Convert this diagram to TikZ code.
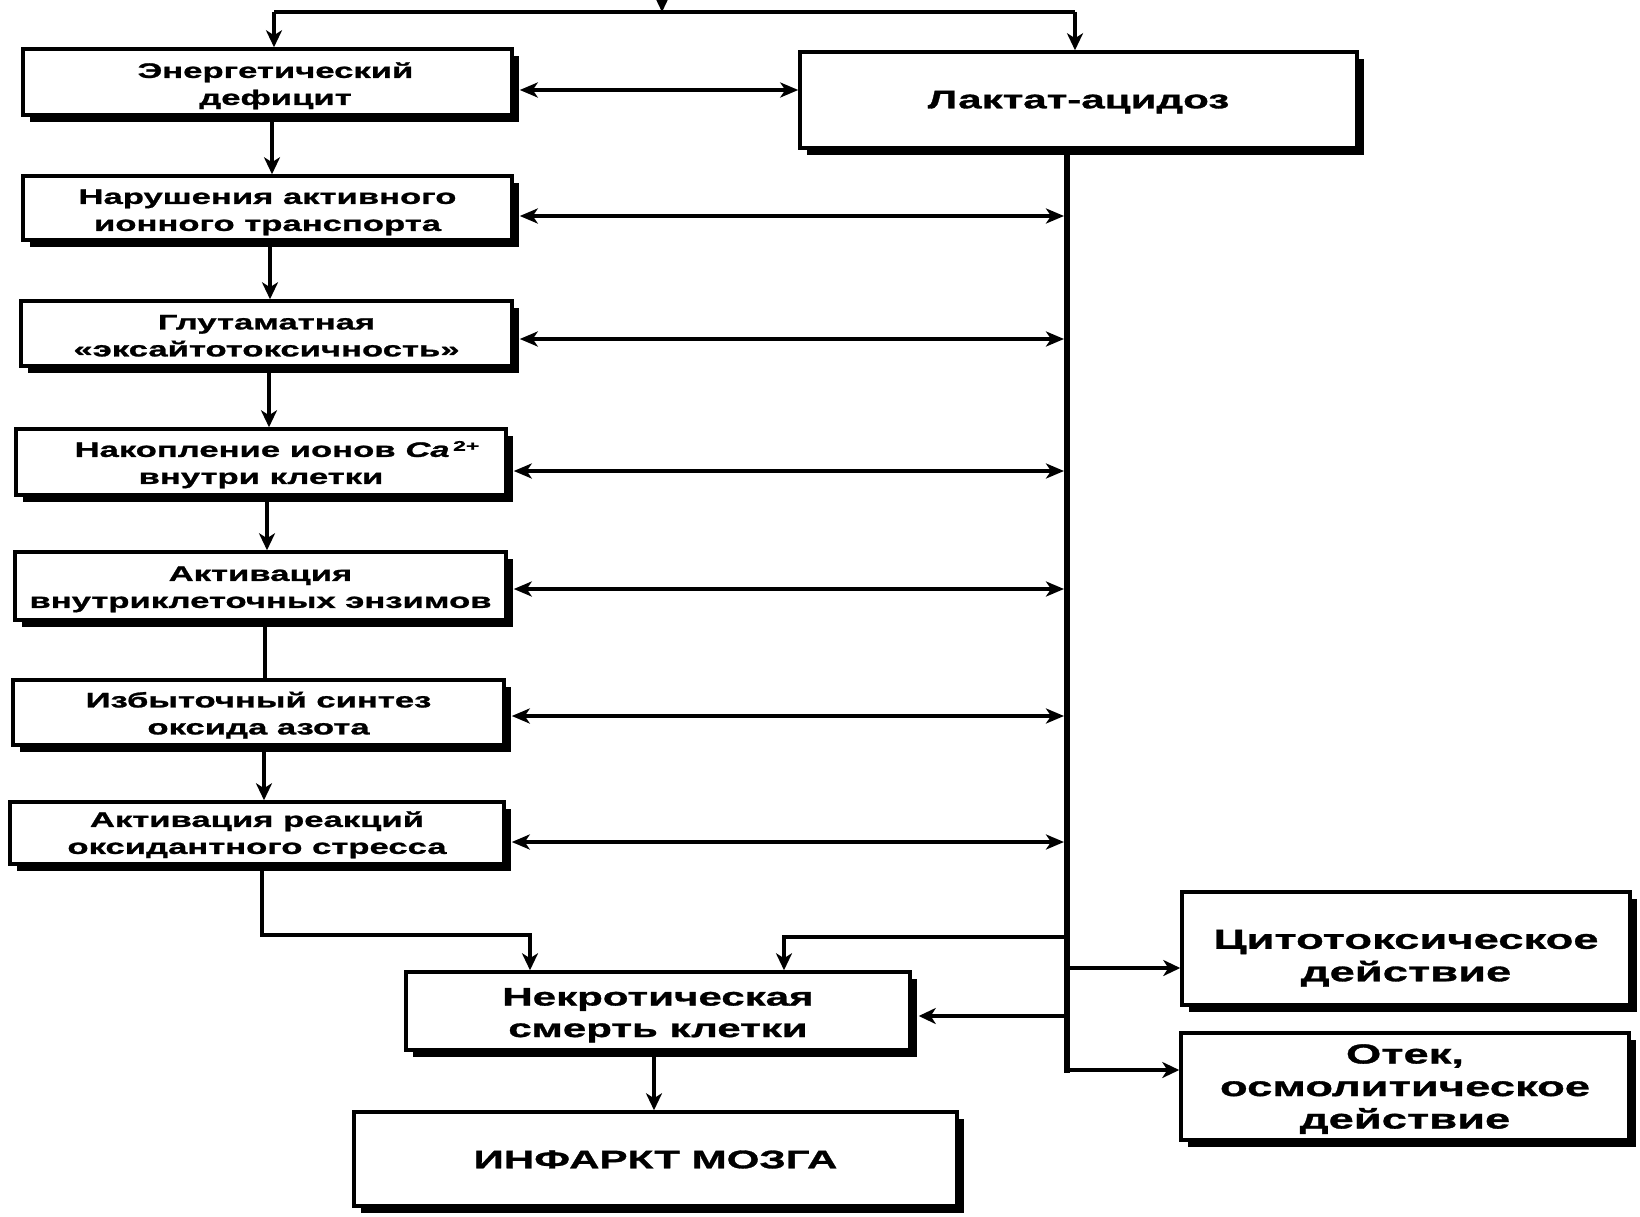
\documentclass[tikz,border=0pt]{standalone}
\usepackage{fontspec}
\newfontfamily\dfont{Liberation Sans}[FakeStretch=1.65,FakeBold=1.2]
\usetikzlibrary{arrows.meta,shadows,calc}
\newcommand\bt[2][-4pt]{\raisebox{#1}[\height][\depth]{\begin{tabular}{@{}c@{}}#2\end{tabular}}}
\begin{document}
\begin{tikzpicture}[x=1pt,y=-1pt,
  box/.style={draw, line width=3.5pt, fill=white, inner sep=0pt,
    drop shadow={shadow xshift=7pt,shadow yshift=-7pt,fill=black,opacity=1},
    font=\dfont\bfseries\fontsize{21}{27}\selectfont},
  midbox/.style={box, font=\dfont\bfseries\fontsize{25.5}{31.5}\selectfont},
  bigbox/.style={box, font=\dfont\bfseries\fontsize{27.5}{32.5}\selectfont},
  tip/.style={-{Stealth[length=17pt,width=16pt,inset=5pt]}},
  arr/.style={line width=4pt, tip},
  plain/.style={line width=4pt},
  dbl/.style={line width=3.5pt, {Stealth[length=18pt,width=15pt,inset=5pt]}-{Stealth[length=18pt,width=15pt,inset=5pt]}, shorten >=3pt},
  trunk/.style={line width=6pt},
]
\useasboundingbox (0,0) rectangle (1640,1217);

% boxes
\node[box, minimum width=489pt, minimum height=66pt] (n1) at (267.5,82) {\bt{\hspace*{16pt}Энергетический\\\hspace*{16pt}дефицит}};
\node[midbox, minimum width=557pt, minimum height=96pt] (lac) at (1078.5,100) {\bt[-2pt]{Лактат-ацидоз}};
\node[box, minimum width=489pt, minimum height=64pt] (n2) at (267.5,208) {\bt{Нарушения активного\\ионного транспорта}};
\node[box, minimum width=491pt, minimum height=65pt] (n3) at (266.5,333.5) {\bt{Глутаматная\\«эксайтотоксичность»}};
\node[box, minimum width=490pt, minimum height=66pt] (n4) at (261,462) {\bt[-3pt]{\hspace*{32pt}Накопление ионов {\itshape Ca}\,\raisebox{0.55ex}{\fontsize{14}{14}\selectfont 2+}\\внутри клетки}};
\node[box, minimum width=491pt, minimum height=68pt] (n5) at (260.5,586) {\bt[-3pt]{Активация\\внутриклеточных энзимов}};
\node[box, minimum width=491pt, minimum height=65pt] (n6) at (258.5,712.5) {\bt[-3pt]{Избыточный синтез\\оксида азота}};
\node[box, minimum width=494pt, minimum height=62pt] (n7) at (257,833) {\bt[-2pt]{Активация реакций\\оксидантного стресса}};
\node[midbox, minimum width=504pt, minimum height=78pt] (nec) at (658,1011) {\bt{Некротическая\\смерть клетки}};
\node[midbox, minimum width=603pt, minimum height=94pt] (inf) at (655.5,1159) {\bt[-3pt]{ИНФАРКТ МОЗГА}};
\node[bigbox, minimum width=448pt, minimum height=113pt] (cyt) at (1406,948.5) {\bt[-10pt]{Цитотоксическое\\действие}};
\node[bigbox, minimum width=448pt, minimum height=107pt] (otek) at (1405,1086.5) {\bt[-3pt]{Отек,\\осмолитическое\\действие}};

% top distribution
\coordinate (top) at (662,-10);
\coordinate (jt) at (662,12);
\coordinate (xl) at (274,12);
\coordinate (xr) at (1075,12);
\draw[arr] (top) -- (jt);
\draw[plain] (xl) -- (xr);
\draw[arr] (xl) -- (n1.north -| xl);
\draw[arr] (xr) -- (lac.north -| xr);

% left column
\coordinate (v1) at (272,0);
\coordinate (v2) at (270,0);
\coordinate (v3) at (269,0);
\coordinate (v4) at (267,0);
\coordinate (v5) at (265,0);
\coordinate (v6) at (264,0);
\draw[arr] (n1.south -| v1) -- (n2.north -| v1);
\draw[arr] (n2.south -| v2) -- (n3.north -| v2);
\draw[arr] (n3.south -| v3) -- (n4.north -| v3);
\draw[arr] (n4.south -| v4) -- (n5.north -| v4);
\draw[plain] (n5.south -| v5) -- (n6.north -| v5);
\draw[arr] (n6.south -| v6) -- (n7.north -| v6);

% trunk
\coordinate (tx) at (1067,0);
\coordinate (tb) at (1067,1070);
\draw[trunk] (lac.south -| tx) -- ($(tb)+(0,3)$);

% horizontal double arrows
\coordinate (a1) at (0,90);
\draw[dbl, shorten >=0pt] ($(n1.east |- a1)+(6,0)$) -- (lac.west |- a1);
\coordinate (t2) at (1067,216);
\coordinate (t3) at (1067,339);
\coordinate (t4) at (1067,471);
\coordinate (t5) at (1067,589);
\coordinate (t6) at (1067,716);
\coordinate (t7) at (1067,842);
\draw[dbl] ($(n2.east |- t2)+(6,0)$) -- (t2);
\draw[dbl] ($(n3.east |- t3)+(6,0)$) -- (t3);
\draw[dbl] ($(n4.east |- t4)+(6,0)$) -- (t4);
\draw[dbl] ($(n5.east |- t5)+(6,0)$) -- (t5);
\draw[dbl] ($(n6.east |- t6)+(6,0)$) -- (t6);
\draw[dbl] ($(n7.east |- t7)+(6,0)$) -- (t7);

% bottom connections
\coordinate (v7) at (262,0);
\coordinate (b7) at (262,935);
\coordinate (nl) at (530,935);
\draw[arr] (n7.south -| v7) -- (b7) -- (nl) -- (nec.north -| nl);
\coordinate (tj1) at (1067,937);
\coordinate (nr) at (784,937);
\draw[arr] (tj1) -- (nr) -- (nec.north -| nr);
\coordinate (tj2) at (1067,968);
\draw[arr] (tj2) -- (cyt.west |- tj2);
\coordinate (tj3) at (1067,1016);
\draw[arr] (tj3) -- ($(nec.east |- tj3)+(7,0)$);
\draw[arr] ($(tb)+(-3,0)$) -- (otek.west |- tb);
\coordinate (cn) at (654,0);
\draw[arr] (nec.south -| cn) -- (inf.north -| cn);
\end{tikzpicture}
\end{document}
